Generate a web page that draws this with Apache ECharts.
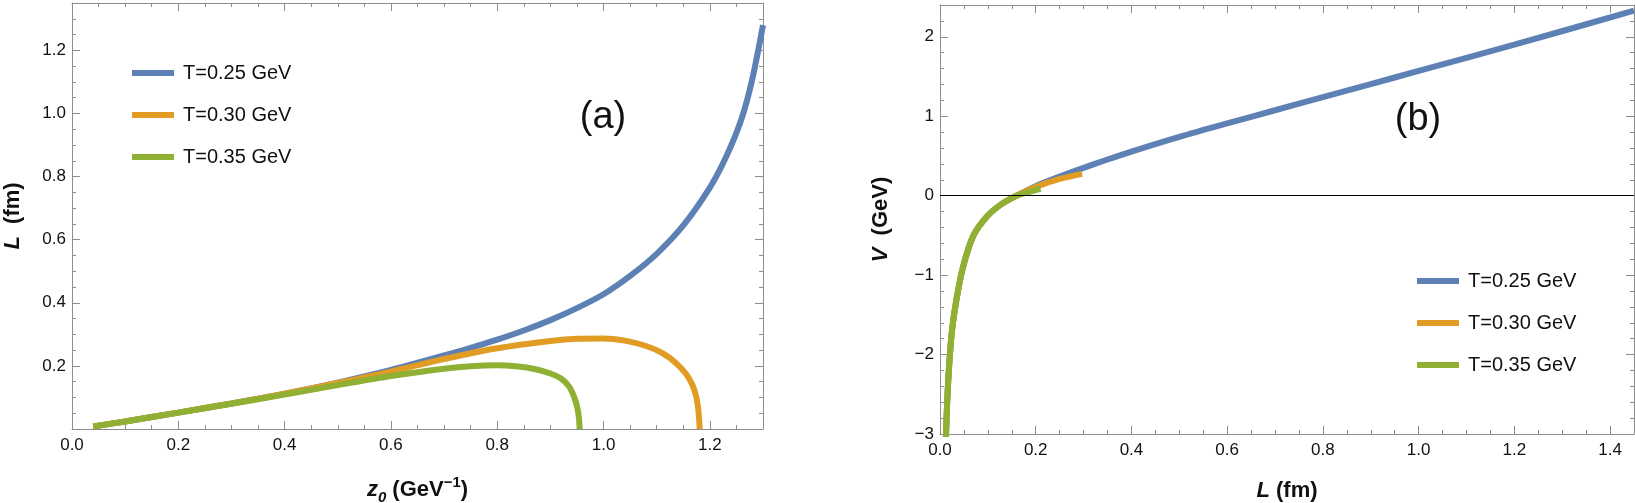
<!DOCTYPE html>
<html>
<head>
<meta charset="utf-8">
<script src="https://cdn.jsdelivr.net/npm/echarts@6/dist/echarts.min.js"></script>
</head>
<body style="margin:0; background:#fff">
<div id="main" style="width:1635px;height:503px"></div>
<script>
var names = ['T=0.25 GeV', 'T=0.30 GeV', 'T=0.35 GeV'];
var colors = ['#5e81b5', '#e19c24', '#8fb032'];

// panel (a): L (fm) against z0 (GeV^-1)
var z0Blue = [0.04, 0.1, 0.2, 0.3, 0.4, 0.5, 0.6, 0.7, 0.75, 0.8, 0.85, 0.9, 0.95, 1.0, 1.05, 1.1, 1.15, 1.2, 1.23, 1.26, 1.28, 1.3];
var LBlue = [0.008, 0.024, 0.052, 0.081, 0.112, 0.147, 0.187, 0.233, 0.257, 0.283, 0.312, 0.345, 0.383, 0.427, 0.485, 0.555, 0.645, 0.765, 0.86, 0.985, 1.11, 1.28];
var z0Orange = [0.04, 0.1, 0.2, 0.3, 0.4, 0.5, 0.6, 0.7, 0.8, 0.9, 0.95, 1.0, 1.04, 1.08, 1.11, 1.135, 1.155, 1.167, 1.174, 1.178, 1.18, 1.181];
var LOrange = [0.008, 0.024, 0.052, 0.081, 0.112, 0.146, 0.182, 0.222, 0.256, 0.279, 0.286, 0.287, 0.28, 0.263, 0.241, 0.211, 0.175, 0.14, 0.105, 0.065, 0.025, 0.0];
var z0Green = [0.04, 0.1, 0.2, 0.3, 0.4, 0.5, 0.6, 0.7, 0.75, 0.8, 0.84, 0.87, 0.9, 0.92, 0.935, 0.945, 0.951, 0.954, 0.955];
var LGreen = [0.008, 0.024, 0.052, 0.08, 0.109, 0.139, 0.168, 0.191, 0.199, 0.202, 0.198, 0.19, 0.176, 0.16, 0.135, 0.1, 0.065, 0.03, 0.0];

// panel (b): V (GeV) against L (fm)
var LBlueR = [0.012, 0.015, 0.019, 0.025, 0.034, 0.048, 0.07, 0.1, 0.13, 0.16, 0.2, 0.25, 0.3, 0.35, 0.4, 0.5, 0.6, 0.7, 0.8, 0.9, 1.0, 1.2, 1.45];
var VBlue = [-3.1, -2.6, -2.15, -1.7, -1.32, -0.9, -0.5, -0.25, -0.1, 0.0, 0.12, 0.24, 0.35, 0.455, 0.555, 0.74, 0.91, 1.075, 1.24, 1.405, 1.57, 1.9, 2.33];
var LOrangeR = [0.012, 0.015, 0.019, 0.025, 0.034, 0.048, 0.07, 0.1, 0.13, 0.16, 0.2, 0.25, 0.297];
var VOrange = [-3.1, -2.6, -2.15, -1.7, -1.32, -0.9, -0.5, -0.25, -0.1, 0.0, 0.11, 0.21, 0.275];
var LGreenR = [0.012, 0.015, 0.019, 0.025, 0.034, 0.048, 0.07, 0.1, 0.13, 0.16, 0.19, 0.21];
var VGreen = [-3.1, -2.6, -2.15, -1.7, -1.32, -0.9, -0.5, -0.25, -0.1, 0.0, 0.055, 0.087];

var font = '"Liberation Sans", Arial, sans-serif';
var frameColor = '#8c8c8c';

function pairs(xs, ys) {
    return xs.map(function (x, i) { return [x, ys[i]]; });
}

function oneDecimal(v) { return v.toFixed(1); }
function integer(v) { return v < 0 ? '\u2212' + Math.abs(v) : String(v); }

var nameStyle = {
    fontSize: 22, fontWeight: 'bold', fontFamily: font, color: '#111',
    rich: {
        b: {fontSize: 22, fontWeight: 'bold', fontFamily: font, color: '#111', lineHeight: 30, verticalAlign: 'middle'},
        i: {fontSize: 22, fontWeight: 'bold', fontStyle: 'italic', fontFamily: font, color: '#111', lineHeight: 30, verticalAlign: 'middle'},
        sub: {fontSize: 15, fontWeight: 'bold', fontStyle: 'italic', fontFamily: font, color: '#111', lineHeight: 12, verticalAlign: 'bottom'},
        sup: {fontSize: 15, fontWeight: 'bold', fontFamily: font, color: '#111', lineHeight: 15, verticalAlign: 'top'}
    }
};

// four sides of the frame, each with a long-tick axis and a short-tick axis
function frameAxes(dim, grid, min, max, major, minor, fmt, showMin, name, nameGap) {
    var sides = dim === 'x' ? ['bottom', 'top'] : ['left', 'right'];
    var list = [];
    sides.forEach(function (side, k) {
        [major, minor].forEach(function (step, m) {
            var ax = {
                type: 'value', gridIndex: grid, position: side,
                min: min, max: max, interval: step,
                splitLine: {show: false},
                axisLine: {show: m === 0, onZero: false, lineStyle: {color: frameColor, width: 1}},
                axisTick: {show: true, inside: true, length: m === 0 ? 8 : 4, lineStyle: {color: frameColor, width: 1}},
                axisLabel: {show: false}
            };
            if (k === 0 && m === 0) {
                ax.axisLabel = {
                    show: true, formatter: fmt, color: '#111', fontSize: 17, fontFamily: font,
                    margin: dim === 'x' ? 8 : 6, showMinLabel: showMin, showMaxLabel: false
                };
                ax.name = name;
                ax.nameLocation = 'middle';
                ax.nameGap = nameGap;
                ax.nameTextStyle = nameStyle;
                if (dim === 'y') ax.nameRotate = 90;
            }
            list.push(ax);
        });
    });
    return list;
}

function curve(name, idx, xs, ys, axisIndex, extra) {
    var s = {
        name: name, type: 'line', xAxisIndex: axisIndex, yAxisIndex: axisIndex,
        data: pairs(xs, ys), showSymbol: false, smooth: 0.3,
        lineStyle: {color: colors[idx], width: 6},
        itemStyle: {color: colors[idx]}
    };
    if (extra) s.markLine = extra;
    return s;
}

var legendBase = {
    data: names, orient: 'vertical', icon: 'rect', itemWidth: 42, itemHeight: 6, itemGap: 20,
    selectedMode: false,
    textStyle: {fontSize: 20, fontFamily: font, color: '#111', lineHeight: 22, padding: [0, 0, 0, 4]}
};

var option = {
    animation: false,
    backgroundColor: '#fff',
    grid: [
        {left: 72, top: 3, width: 691, height: 426, containLabel: false, outerBoundsMode: 'none'},
        {left: 940, top: 5, width: 694, height: 429, containLabel: false, outerBoundsMode: 'none'}
    ],
    legend: [
        Object.assign({left: 127, top: 57}, legendBase),
        Object.assign({left: 1412, top: 265}, legendBase)
    ],
    xAxis: [].concat(
        frameAxes('x', 0, 0, 1.3, 0.2, 0.05, oneDecimal, true, '{i|z}{sub|0}{b| (GeV}{sup|\u22121}{b|)}', 46),
        frameAxes('x', 1, 0, 1.45, 0.2, 0.05, oneDecimal, true, '{i|L}{b| (fm)}', 42)
    ),
    yAxis: [].concat(
        frameAxes('y', 0, 0, 1.35, 0.2, 0.05, oneDecimal, false, '{i|L}{b|  (fm)}', 44),
        frameAxes('y', 1, -3, 2.4, 1, 0.2, integer, true, '{i|V}{b|  (GeV)}', 44)
    ),
    graphic: [
        {type: 'text', x: 603, y: 118, style: {text: '(a)', fontSize: 38, fontFamily: font, fill: '#111', align: 'center', verticalAlign: 'middle'}},
        {type: 'text', x: 1418, y: 120, style: {text: '(b)', fontSize: 38, fontFamily: font, fill: '#111', align: 'center', verticalAlign: 'middle'}}
    ],
    series: [
        curve(names[0], 0, z0Blue, LBlue, 0),
        curve(names[1], 1, z0Orange, LOrange, 0),
        curve(names[2], 2, z0Green, LGreen, 0),
        curve(names[0], 0, LBlueR, VBlue, 4, {
            silent: true, symbol: 'none', label: {show: false},
            lineStyle: {color: '#000', width: 1, type: 'solid'},
            data: [{yAxis: 0}]
        }),
        curve(names[1], 1, LOrangeR, VOrange, 4),
        curve(names[2], 2, LGreenR, VGreen, 4)
    ]
};

var myChart = echarts.init(document.getElementById('main'));
myChart.setOption(option);
window.addEventListener('resize', function () { myChart.resize(); });
</script>
</body>
</html>
